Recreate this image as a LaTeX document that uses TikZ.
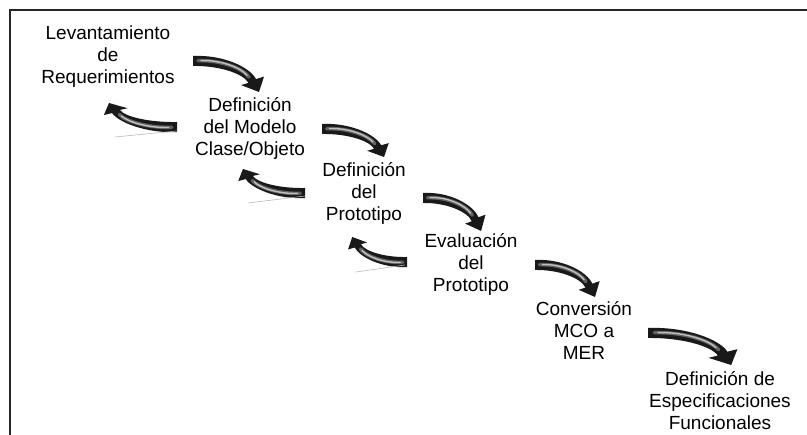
\documentclass[tikz,border=0pt]{standalone}
\usepackage{fontspec}
\setmainfont{Liberation Sans}
\begin{document}
\begin{tikzpicture}[x=1pt, y=-1pt,
  label/.style={font=\fontsize{19}{22}\selectfont, align=center, inner sep=0pt},
  arrowbody/.style={fill=black!90},
  arrowglow/.style={draw=black!62, line width=3.6pt, line cap=round},
  arrowshine/.style={draw=gray!50, line width=1.4pt, line cap=round},
  frame/.style={draw=black!85, line width=2pt},
  ghost/.style={draw=gray!55, line width=0.6pt}]

\useasboundingbox (0,0) rectangle (807,435);

% curved block arrow: starts at the local origin, tip at (66,#1)
\newcommand\curvedarrow[1]{%
  \fill[arrowbody] (0,-5) .. controls (30,-6.5) and (57,{0.2*#1}) .. (63,{0.6*#1-0.5})
    -- (71,{0.52*#1-0.5}) -- (66,#1) -- (48,{0.76*#1+0.5}) -- (55.5,{0.69*#1+0.5})
    .. controls (50,{0.36*#1+1}) and (25,4.5) .. (0,5) -- cycle;
  \draw[arrowglow] (5,-0.3) .. controls (28,-1.2) and (50,{0.24*#1}) .. (56,{0.52*#1});
  \draw[arrowshine] (8,-0.4) .. controls (28,-1.2) and (48,{0.22*#1}) .. (54,{0.46*#1});
}

% frame
\draw[frame] (10,437) -- (10,10) -- (808,10);

% steps
\node[label] (req)  at (108,57)  {Levantamiento\\de\\Requerimientos};
\node[label] (mco)  at (250,128) {Definición\\del Modelo\\Clase/Objeto};
\node[label] (prot) at (364,193) {Definición\\del\\Prototipo};
\node[label] (eval) at (471,264) {Evaluación\\del\\Prototipo};
\node[label] (mer)  at (584,331) {Conversión\\MCO a\\MER};
\node[label] (esp)  at (720,401) {Definición de\\Especificaciones\\Funcionales};

% arrow anchors
\coordinate (f1) at (193,61);
\coordinate (f2) at (322,129);
\coordinate (f3) at (423,198);
\coordinate (f4) at (535,265);
\coordinate (f5) at (648,333);
\coordinate (b1) at (177,127);
\coordinate (b2) at (305,193);
\coordinate (b3) at (407,262);

% forward arrows
\begin{scope}[shift={(f1)}] \curvedarrow{31} \end{scope}
\begin{scope}[shift={(f2)}, xscale=0.94] \curvedarrow{28} \end{scope}
\begin{scope}[shift={(f3)}, xscale=0.88] \curvedarrow{33} \end{scope}
\begin{scope}[shift={(f4)}, xscale=0.91] \curvedarrow{32} \end{scope}
\begin{scope}[shift={(f5)}, xscale=1.26] \curvedarrow{32} \end{scope}

% backward arrows
\begin{scope}[shift={(b1)}, rotate=180, xscale=1.03] \curvedarrow{24} \end{scope}
\begin{scope}[shift={(b2)}, rotate=180, xscale=0.94] \curvedarrow{24} \end{scope}
\begin{scope}[shift={(b3)}, rotate=180, xscale=0.83] \curvedarrow{25} \end{scope}

% faint lines under the backward arrows
\coordinate (g1a) at (115,137); \coordinate (g1b) at (177,131);
\coordinate (g2a) at (248,203); \coordinate (g2b) at (305,196);
\coordinate (g3a) at (356,272); \coordinate (g3b) at (405,265);
\draw[ghost] (g1a) -- (g1b);
\draw[ghost] (g2a) -- (g2b);
\draw[ghost] (g3a) -- (g3b);
\end{tikzpicture}
\end{document}
